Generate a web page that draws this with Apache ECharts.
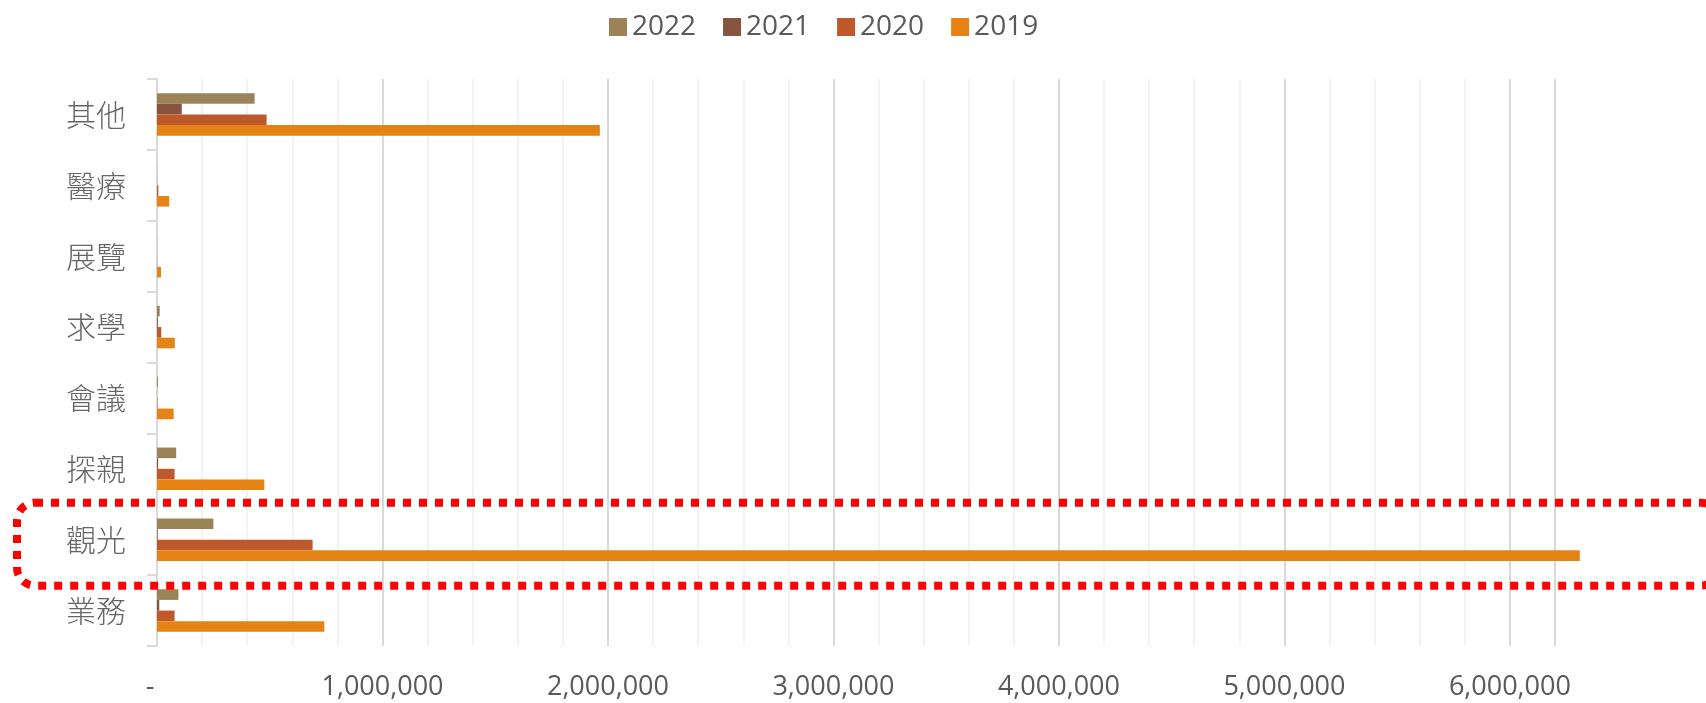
<!DOCTYPE html>
<html><head><meta charset="utf-8">
<script src="https://cdn.jsdelivr.net/npm/echarts@6/dist/echarts.min.js"></script>
<style>html,body{margin:0;padding:0;background:#fff}#c{width:1706px;height:703px}</style>
</head><body><div id="c"></div>
<script>
const categories = ['業務','觀光','探親','會議','求學','展覽','醫療','其他'];
const seriesNames = ['2022','2021','2020','2019'];
const v2022 = [95000, 250000, 85000, 4000, 12000, 500, 500, 433000];
const v2021 = [10000, 3000, 5000, 300, 4000, 300, 500, 110000];
const v2020 = [78000, 690000, 78000, 2000, 19000, 600, 6000, 486000];
const v2019 = [742000, 6310000, 476000, 74000, 79000, 18000, 54000, 1964000];
const colors = ['#9c8357', '#87553f', '#be592c', '#e58314'];
const highlightCategory = '觀光';

const values = [v2022, v2021, v2020, v2019];
const chart = echarts.init(document.getElementById('c'));
const fmt = v => v === 0 ? '-  ' : String(v).replace(/\B(?=(\d{3})+(?!\d))/g, ',');

chart.setOption({
  animation: false,
  color: colors,
  legend: {
    data: seriesNames, left: 604, top: 8, icon: 'rect', itemWidth: 18, itemHeight: 18, itemGap: 27,
    textStyle: { color: '#595959', fontSize: 28, fontFamily: 'Open Sans' }
  },
  grid: { left: 157, right: 151, top: 79, bottom: 57, containLabel: false },
  xAxis: {
    type: 'value', min: 0, max: 6200000, interval: 1000000,
    axisLine: { show: false }, axisTick: { show: false },
    axisLabel: { color: '#595959', fontSize: 27, fontFamily: 'Open Sans', margin: 28, formatter: fmt,
      showMaxLabel: false },
    splitLine: { show: true, lineStyle: { color: '#d9d9d9', width: 2 } },
    minorTick: { show: false, splitNumber: 5 },
    minorSplitLine: { show: true, lineStyle: { color: '#efefef', width: 1.5 } }
  },
  yAxis: {
    type: 'category', data: categories,
    axisLine: { show: true, lineStyle: { color: '#d9d9d9', width: 2 } },
    axisTick: { show: true, length: 10, lineStyle: { color: '#d9d9d9', width: 2 } },
    axisLabel: { color: '#666666', fontSize: 30, fontFamily: 'Noto Sans CJK TC', fontWeight: 300, margin: 31 }
  },
  series: seriesNames.map((n, i) => ({
    name: n, type: 'bar', data: values[i], barGap: '0%', barCategoryGap: '40%', clip: false,
    itemStyle: { color: colors[i] }
  }))
});

const cy = chart.convertToPixel({ yAxisIndex: 0 }, highlightCategory);
chart.setOption({
  graphic: [{
    type: 'rect', z: 100,
    shape: { x: 17, y: cy - 37, width: 1702, height: 83, r: 18 },
    style: { fill: 'none', stroke: '#ff0000', lineWidth: 8, lineDash: [8, 8] }
  }]
});
</script></body></html>
